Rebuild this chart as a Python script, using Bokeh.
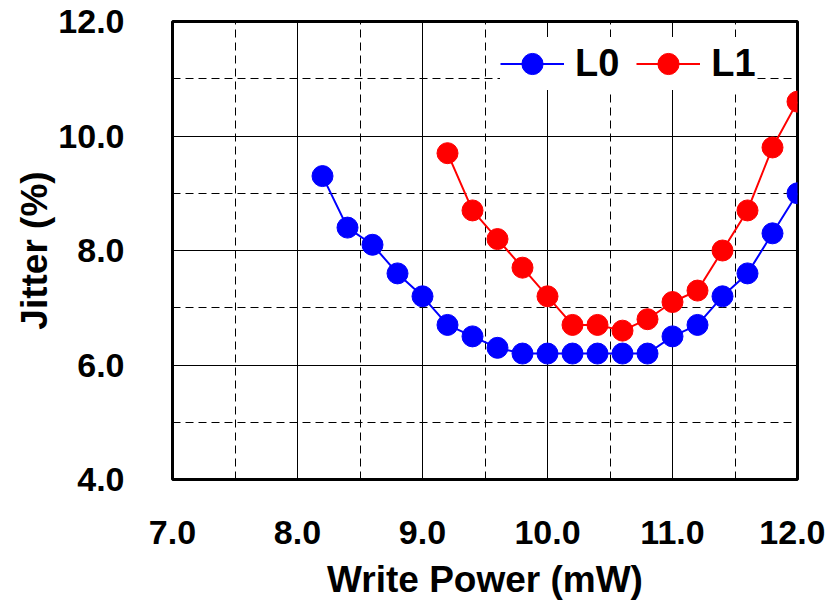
from bokeh.plotting import figure
from bokeh.models import FixedTicker, Legend, LegendItem, Range1d
from bokeh.embed import file_html
from bokeh.resources import INLINE

# ---- data ----
l0_power = [8.2, 8.4, 8.6, 8.8, 9.0, 9.2, 9.4, 9.6, 9.8, 10.0, 10.2, 10.4, 10.6, 10.8, 11.0, 11.2, 11.4, 11.6, 11.8, 12.0]
l0_jitter = [9.3, 8.4, 8.1, 7.6, 7.2, 6.7, 6.5, 6.3, 6.2, 6.2, 6.2, 6.2, 6.2, 6.2, 6.5, 6.7, 7.2, 7.6, 8.3, 9.0]
l1_power = [9.2, 9.4, 9.6, 9.8, 10.0, 10.2, 10.4, 10.6, 10.8, 11.0, 11.2, 11.4, 11.6, 11.8, 12.0]
l1_jitter = [9.7, 8.7, 8.2, 7.7, 7.2, 6.7, 6.7, 6.6, 6.8, 7.1, 7.3, 8.0, 8.7, 9.8, 10.6]

x_ticks = [7.0, 8.0, 9.0, 10.0, 11.0, 12.0]
x_minor = [7.5, 8.5, 9.5, 10.5, 11.5]
x_tick_labels = ["7.0", "8.0", "9.0", "10.0", "11.0", "12.0"]
y_ticks = [4.0, 6.0, 8.0, 10.0, 12.0]
y_minor = [5.0, 7.0, 9.0, 11.0]
y_tick_labels = ["4.0", "6.0", "8.0", "10.0", "12.0"]

FONT = "Liberation Sans"

p = figure(width=825, height=602, output_backend="svg", toolbar_location=None,
           x_range=Range1d(7.0, 12.0), y_range=Range1d(4.0, 12.0),
           min_border_left=172, min_border_right=28, min_border_top=21, min_border_bottom=123)
p.background_fill_color = "white"
p.border_fill_color = "white"
p.outline_line_color = "black"
p.outline_line_width = 3

p.xaxis.ticker = FixedTicker(ticks=x_ticks, minor_ticks=x_minor)
p.yaxis.ticker = FixedTicker(ticks=y_ticks, minor_ticks=y_minor)
p.xaxis.major_label_overrides = {t: s for t, s in zip(x_ticks, x_tick_labels)}
p.yaxis.major_label_overrides = {t: s for t, s in zip(y_ticks, y_tick_labels)}

for ax in (p.xaxis, p.yaxis):
    ax.axis_line_color = None
    ax.major_tick_line_color = None
    ax.minor_tick_line_color = None
    ax.major_label_text_font = FONT
    ax.major_label_text_font_style = "bold"
    ax.major_label_text_font_size = "34px"
    ax.major_label_text_color = "black"
    ax.axis_label_text_font = FONT
    ax.axis_label_text_font_style = "bold"
    ax.axis_label_text_font_size = "37px"
    ax.axis_label_text_color = "black"

p.xaxis.axis_label = "Write Power (mW)"
p.yaxis.axis_label = "Jitter (%)"
p.xaxis.major_label_standoff = 35
p.xaxis.axis_label_standoff = 12
p.yaxis.major_label_standoff = 42
p.yaxis.axis_label_standoff = 0

for g in (p.xgrid, p.ygrid):
    g.grid_line_color = "black"
    g.grid_line_width = 1
    g.minor_grid_line_color = "black"
    g.minor_grid_line_width = 1
    g.minor_grid_line_dash = "8 5"

l0_line = p.line(l0_power, l0_jitter, line_color="#0000FF", line_width=2)
l0_pts = p.scatter(l0_power, l0_jitter, size=21, fill_color="#0000FF", line_color="#0000FF")
l1_line = p.line(l1_power, l1_jitter, line_color="#FF0000", line_width=2)
l1_pts = p.scatter(l1_power, l1_jitter, size=21, fill_color="#FF0000", line_color="#FF0000")

legend = Legend(items=[LegendItem(label="L0", renderers=[l0_line, l0_pts]),
                       LegendItem(label="L1", renderers=[l1_line, l1_pts])],
                orientation="horizontal", location=(328, 389))
legend.glyph_width = 64
legend.glyph_height = 53
legend.label_standoff = 11
legend.spacing = 17
legend.padding = 4
legend.margin = 0
legend.border_line_color = None
legend.background_fill_color = "white"
legend.background_fill_alpha = 1.0
legend.label_text_font = FONT
legend.label_text_font_style = "bold"
legend.label_text_font_size = "38px"
legend.label_text_color = "black"
p.add_layout(legend, "center")

open("out.html", "w").write(file_html(p, INLINE))
